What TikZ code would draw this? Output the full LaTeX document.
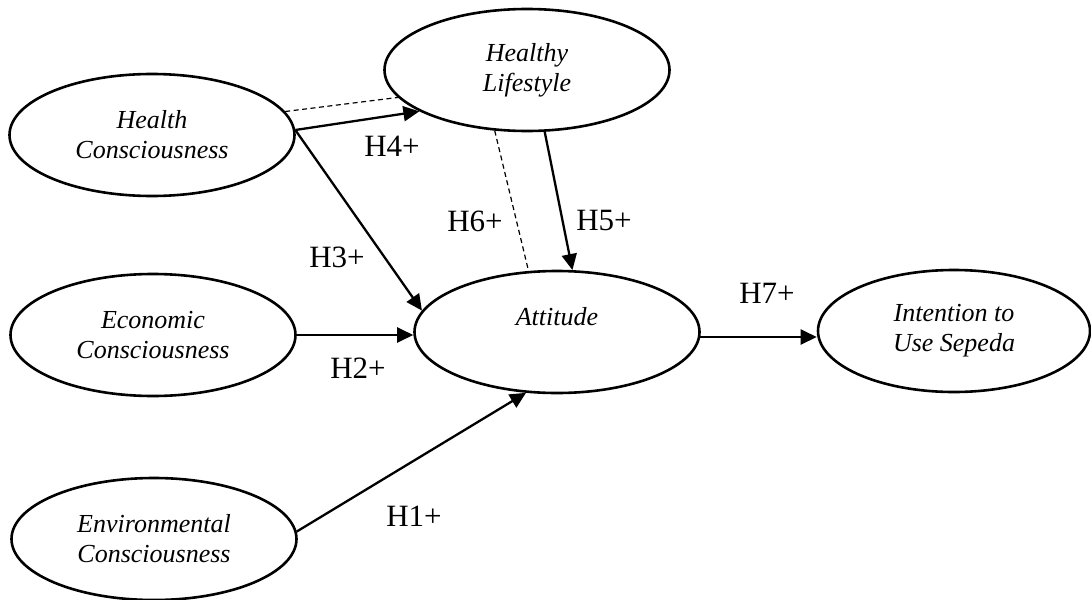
\documentclass[tikz,border=0pt]{standalone}
\usepackage{fontspec}
\setmainfont{Liberation Serif}
\usetikzlibrary{shapes.geometric,arrows.meta}
\tikzset{
  ell/.style={ellipse, draw, line width=2.6pt, minimum width=285pt, minimum height=122pt,
    inner sep=0pt, align=center, font=\fontsize{26}{30}\selectfont\itshape},
  arr/.style={line width=2.3pt, -{Triangle[length=16pt,width=15pt]}},
  dsh/.style={line width=1.2pt, dash pattern=on 5pt off 3.5pt},
  lbl/.style={font=\fontsize{31}{36}\selectfont, inner sep=0pt},
}
\begin{document}
\begin{tikzpicture}[x=1pt,y=-1pt]
\useasboundingbox (0,0) rectangle (1091,599);
% ellipses
\node[ell] (hc)  at (152,135) {Health\\Consciousness};
\node[ell] (hl)  at (527,70)  {Healthy\\Lifestyle};
\node[ell] (ec)  at (153,335) {Economic\\Consciousness};
\node[ell] (att) at (557,332) {Attitude\\\phantom{C}};
\node[ell, minimum width=272pt] (int) at (954,331) {Intention to\\Use Sepeda};
\node[ell] (env) at (154,539) {Environmental\\Consciousness};
% connectors
\draw[dsh] (hc.10) -- (hl.192);
\draw[dsh] (hl.242) -- (att.115);
\draw[arr] (hc.2) -- (hl.201);
\draw[arr] (hc.2) -- (att.171);
\draw[arr] (ec.east) -- (ec.east -| att.west);
\draw[arr] (env.3) -- (att.243);
\draw[arr] (hl.286) -- (att.76);
\draw[arr] (att.-2) -- (att.-2 -| int.west);
% labels
\node[lbl] (l4) at (392,146) {H4+};
\node[lbl] (l6) at (475,221) {H6+};
\node[lbl] (l5) at (604,221) {H5+};
\node[lbl] (l3) at (337,257) {H3+};
\node[lbl] (l2) at (358,368) {H2+};
\node[lbl] (l1) at (414,516) {H1+};
\node[lbl] (l7) at (767,293) {H7+};
\end{tikzpicture}
\end{document}
